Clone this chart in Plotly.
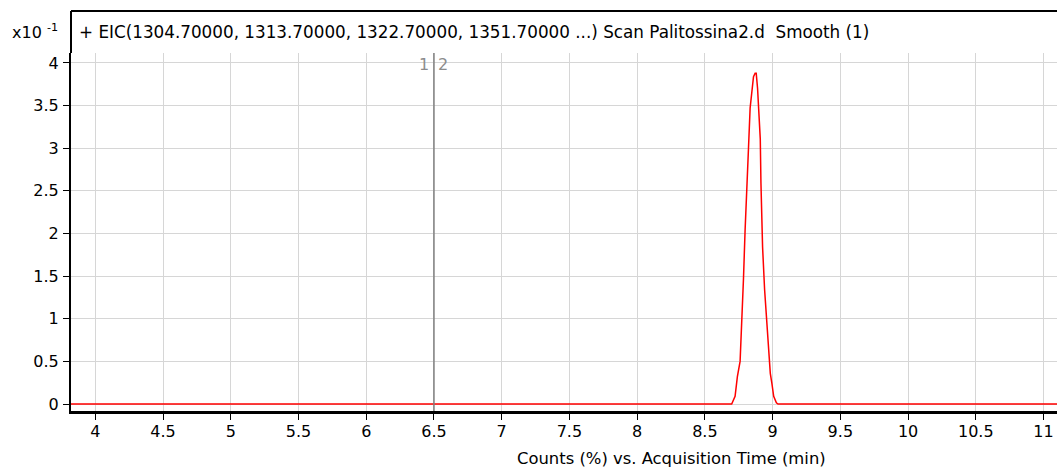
import plotly.graph_objects as go

# Extracted ion chromatogram (smoothed), counts in units of 10^-1 %
time_min = [3.80, 8.698, 8.723, 8.740, 8.760, 8.770, 8.785, 8.797, 8.810, 8.822,
            8.834, 8.847, 8.859, 8.871, 8.879, 8.889, 8.899, 8.909, 8.914, 8.926,
            8.941, 8.958, 8.970, 8.983, 8.995, 9.008, 9.028, 9.040, 11.20]
counts = [0.0, 0.0, 0.09, 0.32, 0.50, 0.83, 1.47, 2.04, 2.45, 3.00,
          3.47, 3.69, 3.84, 3.88, 3.88, 3.70, 3.41, 3.11, 2.59, 1.84,
          1.34, 0.98, 0.63, 0.36, 0.24, 0.09, 0.015, 0.0, 0.0]

x_ticks = [4, 4.5, 5, 5.5, 6, 6.5, 7, 7.5, 8, 8.5, 9, 9.5, 10, 10.5, 11]
x_tick_labels = ["4", "4.5", "5", "5.5", "6", "6.5", "7", "7.5", "8", "8.5",
                 "9", "9.5", "10", "10.5", "11"]
y_ticks = [0, 0.5, 1, 1.5, 2, 2.5, 3, 3.5, 4]
y_tick_labels = ["0", "0.5", "1", "1.5", "2", "2.5", "3", "3.5", "4"]

marker_time = 6.5
title_text = "+ EIC(1304.70000, 1313.70000, 1322.70000, 1351.70000 ...) Scan Palitossina2.d  Smooth (1)"
x_title = "Counts (%) vs. Acquisition Time (min)"

W, H = 1057, 470
ML, MR, MT, MB = 71, 0, 53, 59
PH = H - MT - MB
PW = W - ML - MR

FONT = "DejaVu Sans"
FS = 16
GRID = "#d6d6d6"

fig = go.Figure()
fig.add_trace(go.Scatter(
    x=time_min, y=counts, mode="lines",
    line=dict(color="#ff0000", width=1.5),
    hoverinfo="skip", showlegend=False,
))

fig.update_layout(
    width=W, height=H,
    margin=dict(l=ML, r=MR, t=MT, b=MB, pad=0),
    paper_bgcolor="white", plot_bgcolor="white",
    font=dict(family=FONT, size=FS, color="#000000"),
    xaxis=dict(
        range=[3.8206, 11.0995],
        tickvals=x_ticks, ticktext=x_tick_labels,
        showgrid=True, gridcolor=GRID, gridwidth=1,
        zeroline=False,
        showline=True, linecolor="#000000", linewidth=3,
        ticks="outside", ticklen=6, tickcolor="#000000", tickwidth=1,
        ticklabelstandoff=-2,
    ),
    yaxis=dict(
        range=[-0.082, 4.117],
        tickvals=y_ticks, ticktext=y_tick_labels,
        showgrid=True, gridcolor=GRID, gridwidth=1,
        zeroline=False,
        showline=True, linecolor="#000000", linewidth=2,
        ticks="outside", ticklen=6, tickcolor="#000000", tickwidth=1,
        ticklabelstandoff=1,
    ),
)

top_frame = 1 + (MT - 11) / PH

# frame: top border and upward extension of the y axis line
fig.add_shape(type="line", xref="paper", yref="paper",
              x0=0, x1=1, y0=top_frame, y1=top_frame,
              line=dict(color="#000000", width=2))
fig.add_shape(type="line", xref="paper", yref="paper",
              x0=0, x1=0, y0=1, y1=top_frame,
              line=dict(color="#000000", width=2))

# cursor line separating segments 1 and 2
fig.add_shape(type="line", xref="x", yref="paper",
              x0=marker_time, x1=marker_time, y0=0, y1=1,
              line=dict(color="#808080", width=1.5), layer="above")
label_y = 1 - (65 - MT) / PH
fig.add_annotation(x=marker_time, y=label_y, xref="x", yref="paper",
                   text="1", showarrow=False, xanchor="right", yanchor="middle", xshift=-3,
                   font=dict(family=FONT, size=FS, color="#8c8c8c"))
fig.add_annotation(x=marker_time, y=label_y, xref="x", yref="paper",
                   text="2", showarrow=False, xanchor="left", yanchor="middle", xshift=2,
                   font=dict(family=FONT, size=FS, color="#8c8c8c"))

# header text
fig.add_annotation(x=(77 - ML) / PW, y=1 + (MT - 32) / PH, xref="paper", yref="paper",
                   text=title_text, showarrow=False, xanchor="left", yanchor="middle",
                   font=dict(family=FONT, size=16.8, color="#000000"))
fig.add_annotation(x=(60 - ML) / PW, y=1 + (MT - 32) / PH, xref="paper", yref="paper",
                   text="x10 <sup>-1</sup>", showarrow=False, xanchor="right", yanchor="middle",
                   font=dict(family=FONT, size=FS, color="#000000"))

# x axis title
fig.add_annotation(x=(671 - ML) / PW, y=-(458 - (H - MB)) / PH, xref="paper", yref="paper",
                   text=x_title, showarrow=False, xanchor="center", yanchor="middle",
                   font=dict(family=FONT, size=16.4, color="#000000"))

fig.write_html("out.html")
